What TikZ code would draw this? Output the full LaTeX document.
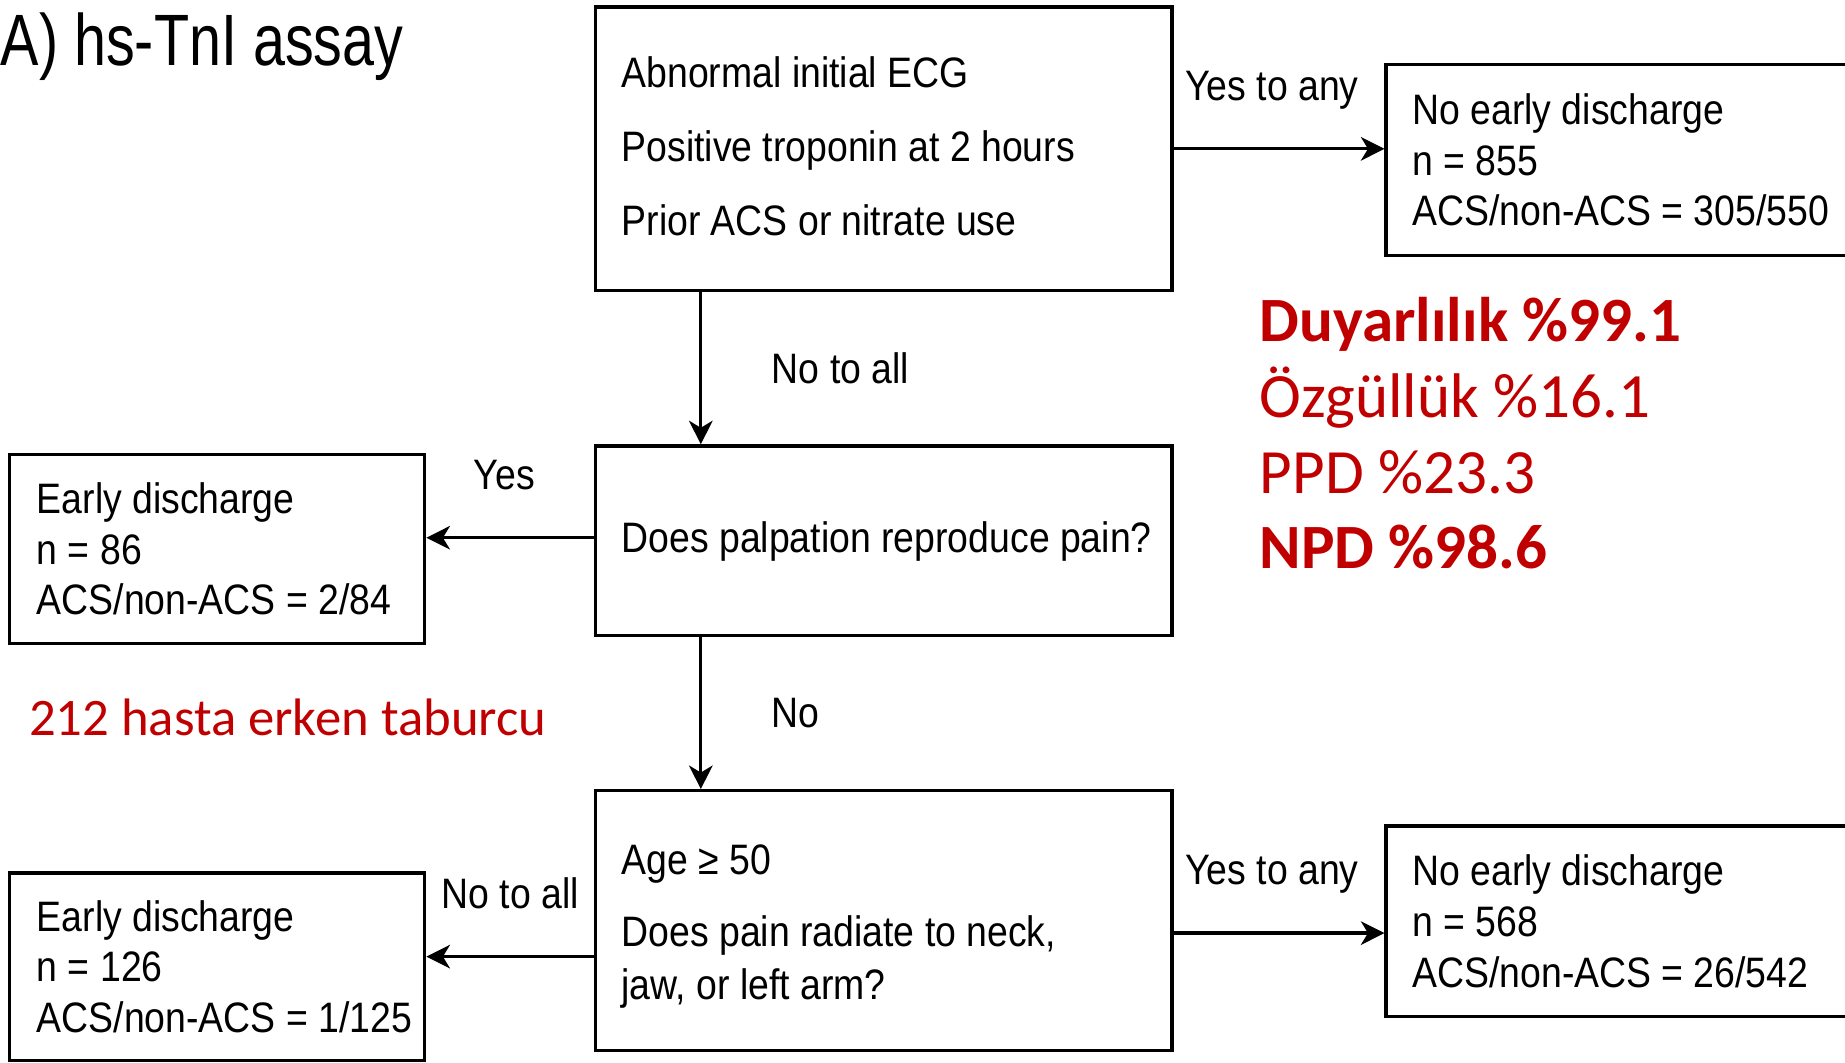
\documentclass[tikz,border=0pt]{standalone}
\usepackage{fontspec}
\usetikzlibrary{arrows.meta}
\newfontfamily\narrowsans[FakeStretch=0.878]{Liberation Sans}
\newfontfamily\titlesans[FakeStretch=0.79]{Liberation Sans}
\newfontfamily\carlito{Carlito}
\definecolor{statred}{RGB}{192,0,0}
\newcommand{\boxfont}{\narrowsans\fontsize{10.3}{12.23}\selectfont}
\newcommand{\statfont}{\carlito\fontsize{15.25}{18}\selectfont}

\tikzset{
  box/.style={draw, line width=0.8pt, inner sep=0pt, minimum width=49mm},
  boxtext/.style={anchor=west, align=left, inner sep=0pt, font=\boxfont},
  arr/.style={line width=0.8pt, -{Stealth[length=2mm, width=2mm, inset=0.6mm]}},
  lab/.style={font=\boxfont, inner sep=0pt},
  stat/.style={anchor=base west, inner sep=0pt, text=statred, font=\statfont},
}

\begin{document}
\begin{tikzpicture}[x=0.1mm, y=-0.1mm]
    \useasboundingbox (0,0) rectangle (1568,903);
    \clip (0,0) rectangle (1568,903);

    % 标题
    \node[anchor=base west, inner sep=0pt, font=\titlesans\fontsize{17.6}{20}\selectfont] (title) at (0,56) {A) hs-TnI assay};

    % 中间的三个判断框
    \node[box, minimum height=24.1mm] (crit) at (751,126.5) {};
    \node[boxtext, font=\narrowsans\fontsize{10.3}{17.9}\selectfont] (crittext) at ([xshift=2.3mm, yshift=0.2mm]crit.west)
        {Abnormal initial ECG\\Positive troponin at 2 hours\\Prior ACS or nitrate use};

    \node[box, minimum height=16.1mm] (palp) at (751,459.5) {};
    \node[boxtext] (palptext) at ([xshift=2.3mm, yshift=-0.1mm]palp.west) {Does palpation reproduce pain?};

    \node[box, minimum height=22.1mm] (age) at (751,782.5) {};
    \node[boxtext, font=\narrowsans\fontsize{10.3}{12.95}\selectfont] (agetext) at ([xshift=2.3mm, yshift=-0.5mm]age.west)
        {Age ≥ 50\\[1.54mm]Does pain radiate to neck,\\jaw, or left arm?};

    % 右侧: 不能早期出院
    \node[box, minimum width=42.2mm, minimum height=16.2mm] (nodisA) at (1389,136) {};
    \node[boxtext] (nodisAtext) at ([xshift=2.3mm]nodisA.west)
        {No early discharge\\n = 855\\ACS/non-ACS = 305/550};

    \node[box, minimum width=42.2mm, minimum height=16.2mm] (nodisB) at (1389,783) {};
    \node[boxtext] (nodisBtext) at ([xshift=2.3mm]nodisB.west)
        {No early discharge\\n = 568\\ACS/non-ACS = 26/542};

    % 左侧: 早期出院
    \node[box, minimum width=35.3mm, minimum height=16.1mm] (earlyA) at (184.5,466.5) {};
    \node[boxtext] (earlyAtext) at ([xshift=2.4mm]earlyA.west)
        {Early discharge\\n = 86\\ACS/non-ACS = 2/84};

    \node[box, minimum width=35.3mm, minimum height=15.9mm] (earlyB) at (184.5,821.5) {};
    \node[boxtext] (earlyBtext) at ([xshift=2.4mm]earlyB.west)
        {Early discharge\\n = 126\\ACS/non-ACS = 1/125};

    % 箭头
    \coordinate (critstem) at ([xshift=9.1mm]crit.south west);
    \coordinate (palpstem) at ([xshift=9.1mm]palp.south west);
    \coordinate (palpL) at ([yshift=0.25mm]palp.west);
    \coordinate (ageR) at ([yshift=-1.05mm]age.east);
    \coordinate (ageL) at ([yshift=-3.05mm]age.west);

    \draw[arr] (crit.east) -- (crit.east -| nodisA.west)
        node[lab, midway, anchor=base, xshift=-0.6mm, yshift=4.1mm] {Yes to any};
    \draw[arr] (critstem) -- (critstem |- palp.north)
        node[lab, midway, anchor=base west, xshift=5.9mm, yshift=-1.25mm] {No to all};
    \draw[arr] (palpL) -- (palpL -| earlyA.east)
        node[lab, midway, anchor=base, xshift=-0.5mm, yshift=4.1mm] {Yes};
    \draw[arr] (palpstem) -- (palpstem |- age.north)
        node[lab, midway, anchor=base west, xshift=5.9mm, yshift=-1.2mm] {No};
    \draw[arr] (ageR) -- (ageR -| nodisB.west)
        node[lab, midway, anchor=base, xshift=-0.6mm, yshift=4.1mm] {Yes to any};
    \draw[arr] (ageL) -- (ageL -| earlyB.east)
        node[lab, midway, anchor=base, yshift=4.1mm] {No to all};

    % 红色的统计结果
    \node[stat, font=\statfont\bfseries] (sens) at (1070,290) {Duyarlılık \%99.1};
    \node[stat] (spec) at (1070,354.5) {Özgüllük \%16.1};
    \node[stat] (ppv) at (1070,419) {PPD \%23.3};
    \node[stat, font=\statfont\bfseries] (npv) at (1070,483.5) {NPD \%98.6};
    \node[anchor=base west, inner sep=0pt, text=statred, font=\carlito\fontsize{12.75}{15}\selectfont] (discharged) at (24,625) {212 hasta erken taburcu};
\end{tikzpicture}
\end{document}
